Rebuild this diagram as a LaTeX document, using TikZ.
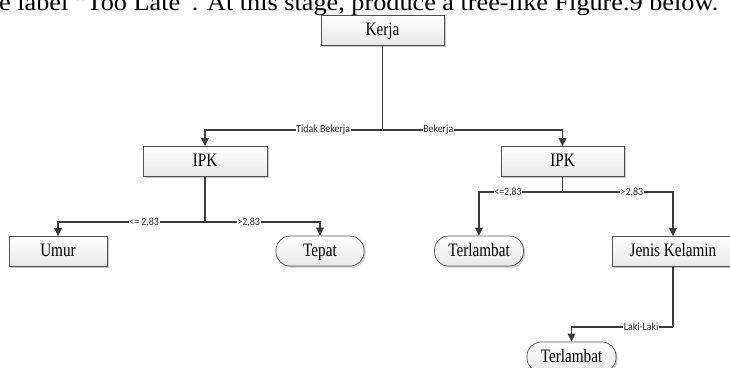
\documentclass[tikz,border=0pt]{standalone}
\usepackage{fontspec}
\setmainfont{Liberation Serif}
\newfontfamily\lblfont{Carlito}
\usetikzlibrary{arrows.meta,shadows}
\definecolor{edgecol}{HTML}{3A3A3A}
\definecolor{boxline}{HTML}{505050}
% node captions and branch labels, both set slightly condensed
\newcommand\bxt[1]{\scalebox{0.8}[1]{\fontsize{19}{19}\selectfont #1}}
\newcommand\lbt[1]{\scalebox{0.9}[1]{\lblfont\fontsize{11}{11}\selectfont #1}}
\tikzset{
  box/.style={draw=boxline, line width=0.7pt, top color=white, bottom color=black!9,
    minimum height=30pt, inner sep=0pt, text height=13pt, text depth=2.5pt,
    drop shadow={shadow xshift=1.6pt, shadow yshift=-1.6pt, fill=black!45, opacity=0.45}},
  leaf/.style={box, rounded corners=14pt},
  conn/.style={draw=edgecol, line width=1.35pt},
  arr/.style={conn, -{Triangle[width=7.5pt,length=8pt]}},
  lbl/.style={fill=white, inner sep=0.6pt, text=black!85},
}
\begin{document}
\begin{tikzpicture}[x=1pt,y=-1pt]
\useasboundingbox (0,0) rectangle (730,367);
\clip (0,0) rectangle (730,367);

% running text of the page above the figure
\node[anchor=base west, inner sep=0] (hdr) at (-1,10.5)
  {\resizebox{719pt}{\height}{\fontsize{24}{24}\selectfont e label “Too Late”. At this stage, produce a tree-like Figure.9 below.}};

% tree nodes
\node[box, minimum width=123pt] (kerja) at (382.5,30) {\bxt{Kerja}};
\node[box, minimum width=124pt] (ipkL)  at (205,161.5) {\bxt{IPK}};
\node[box, minimum width=123pt] (ipkR)  at (562.5,161.5) {\bxt{IPK}};
\node[box, minimum width=98pt]  (umur)  at (58,251.5) {\bxt{Umur}};
\node[leaf, minimum width=88pt] (tepat) at (320,251) {\bxt{Tepat}};
\node[leaf, minimum width=89pt] (terlA) at (479,251) {\bxt{Terlambat}};
\node[box, minimum width=122pt] (jenis) at (673,251.5) {\bxt{Jenis Kelamin}};
\node[leaf, minimum width=89pt] (terlB) at (571.5,357) {\bxt{Terlambat}};

% branch junctions
\coordinate (jK) at (kerja.south |- 0,130);
\coordinate (jL) at (ipkL.south |- 0,222);
\coordinate (jR) at (ipkR.south |- 0,192);
\coordinate (jJ) at (jenis.south |- 0,327);

% connectors
\draw[conn] (kerja.south) -- (jK);
\draw[arr] (jK) -| (ipkL.north) node[lbl, pos=0.167] {\lbt{Tidak Bekerja}};
\draw[arr] (jK) -| (ipkR.north) node[lbl, pos=0.155] {\lbt{Bekerja}};

\draw[conn] (ipkL.south) -- (jL);
\draw[arr] (jL) -| (umur.north) node[lbl, pos=0.207] {\lbt{<= 2,83}};
\draw[arr] (jL) -| (tepat.north) node[lbl, pos=0.19] {\lbt{>2,83}};

\draw[conn] (ipkR.south) -- (jR);
\draw[arr] (jR) -| (terlA.north) node[lbl, pos=0.326] {\lbt{<=2,83}};
\draw[arr] (jR) -| (jenis.north) node[lbl, pos=0.314] {\lbt{>2,83}};

\draw[conn] (jenis.south) -- (jJ);
\draw[arr] (jJ) -| (terlB.north) node[lbl, pos=0.157] {\lbt{Laki-Laki}};
\end{tikzpicture}
\end{document}
